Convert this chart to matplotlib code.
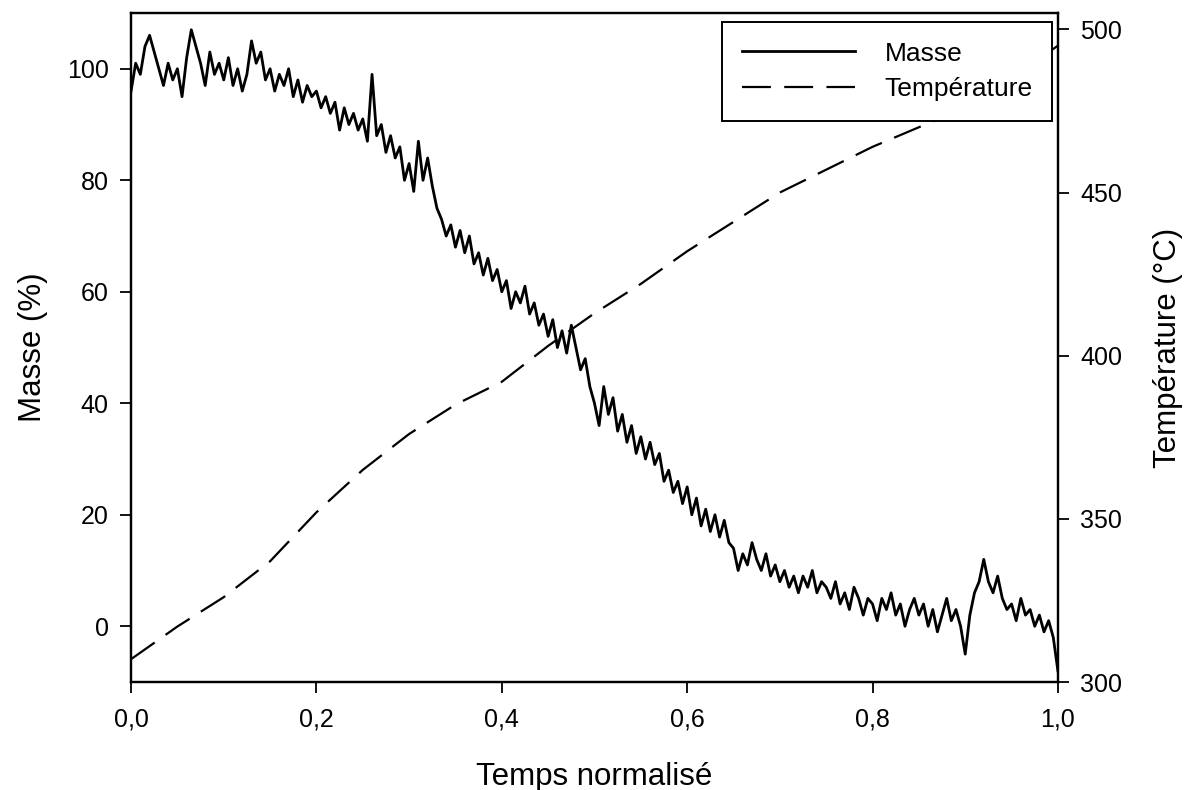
import numpy as np
import matplotlib
matplotlib.use("Agg")
import matplotlib.pyplot as plt
from matplotlib.ticker import FuncFormatter

plt.rcParams['font.family'] = ['Liberation Sans', 'DejaVu Sans']

# mass (%) read every 0.005 of normalised time
masse = [96, 101, 99, 104, 106, 103, 100, 97, 101, 98,
         100, 95, 102, 107, 104, 101, 97, 103, 99, 101,
         98, 102, 97, 100, 96, 99, 105, 101, 103, 98,
         100, 96, 99, 97, 100, 95, 98, 94, 97, 95,
         96, 93, 95, 92, 94, 89, 93, 90, 92, 89,
         91, 87, 99, 88, 90, 85, 88, 84, 86, 80,
         83, 78, 87, 80, 84, 79, 75, 73, 70, 72,
         68, 71, 67, 70, 65, 67, 63, 66, 62, 64,
         60, 62, 57, 60, 58, 61, 56, 58, 54, 56,
         52, 55, 50, 53, 49, 54, 50, 46, 48, 43,
         40, 36, 43, 38, 41, 35, 38, 33, 36, 31,
         34, 30, 33, 29, 31, 26, 28, 24, 26, 22,
         25, 20, 23, 18, 21, 17, 20, 16, 19, 15,
         14, 10, 13, 11, 15, 12, 10, 13, 9, 11,
         8, 10, 7, 9, 6, 9, 7, 10, 6, 8,
         7, 5, 8, 4, 6, 3, 7, 5, 2, 5,
         4, 1, 5, 3, 6, 2, 4, 0, 3, 5,
         2, 4, 0, 3, -1, 2, 5, 1, 3, 0,
         -5, 2, 6, 8, 12, 8, 6, 9, 5, 3,
         4, 1, 5, 2, 3, 0, 2, -1, 1, -2,
         -8]
temps = np.linspace(0, 1, len(masse))

# temperature (°C) read every 0.05
temps_T = np.linspace(0, 1, 21)
temperature = [307, 317, 326, 337, 352, 365, 376, 385, 392, 403, 413,
               422, 432, 441, 450, 457, 464, 470, 476, 485, 495]

fig = plt.figure(figsize=(11.86, 7.9), dpi=100)
ax = fig.add_axes([0.1105, 0.1367, 0.7815, 0.8468])
ax2 = ax.twinx()

l1, = ax.plot(temps, masse, color='black', lw=2, label='Masse')
l2, = ax2.plot(temps_T, temperature, color='black', lw=1.6,
               dashes=(13, 6), label='Température')

ax.set_xlim(0, 1)
ax.set_ylim(-10, 110)
ax2.set_ylim(300, 505)
ax.set_xticks([0, 0.2, 0.4, 0.6, 0.8, 1.0])
ax.set_yticks([0, 20, 40, 60, 80, 100])
ax2.set_yticks([300, 350, 400, 450, 500])
ax.xaxis.set_major_formatter(FuncFormatter(lambda v, p: f"{v:.1f}".replace('.', ',')))

for a in (ax, ax2):
    a.tick_params(direction='out', length=8, width=1.3, labelsize=18, pad=8)
    for s in a.spines.values():
        s.set_linewidth(1.6)
ax.tick_params(axis='x', pad=10)

ax.set_xlabel('Temps normalisé', fontsize=22.5, labelpad=22)
ax.set_ylabel('Masse (%)', fontsize=22.5, labelpad=14)
ax2.set_ylabel('Température (°C)', fontsize=22.5, labelpad=22)

leg = ax2.legend([l1, l2], ['Masse', 'Température'], loc='upper right',
                 bbox_to_anchor=(0.994, 0.987), fontsize=19, handlelength=4.3,
                 handletextpad=1.1, borderpad=0.75, labelspacing=0.45,
                 borderaxespad=0, fancybox=False, framealpha=1, edgecolor='black')
leg.get_frame().set_linewidth(1.4)

fig.savefig('out.png', dpi=100)
